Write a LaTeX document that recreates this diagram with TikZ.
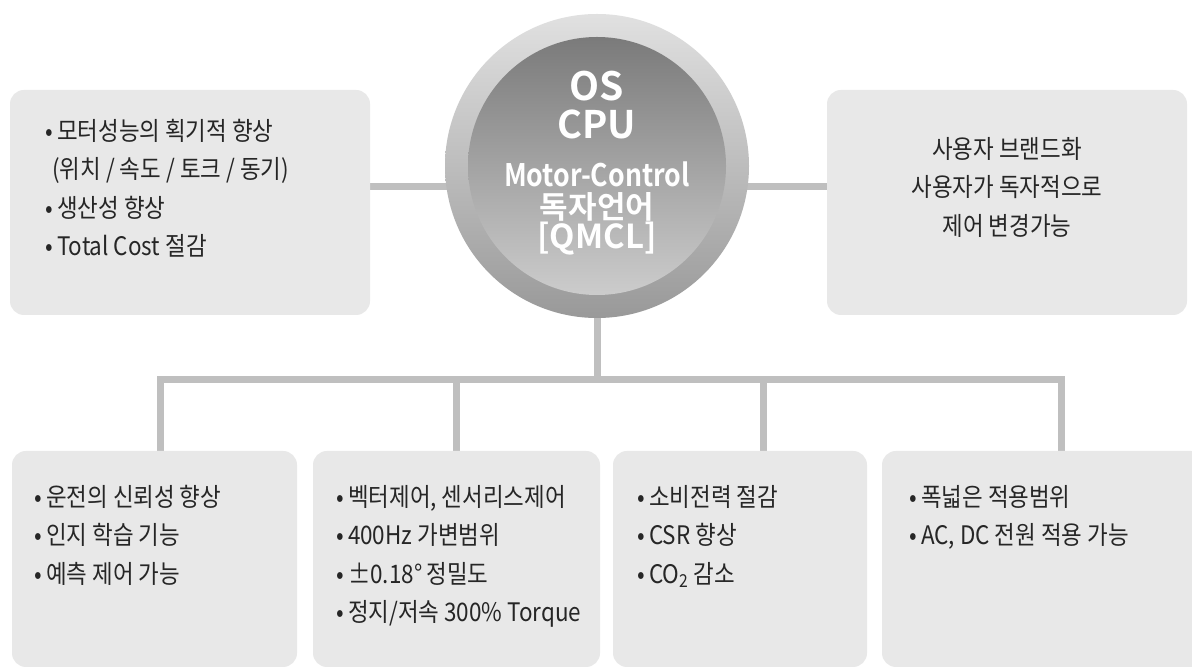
\documentclass[tikz,border=0pt]{standalone}
\usepackage{fontspec}
\setmainfont{Noto Sans CJK KR}[FakeStretch=0.88]
\newfontfamily\cpufont{Noto Sans CJK KR Bold}
\newfontfamily\cpufontn{Noto Sans CJK KR Bold}[FakeStretch=0.86]
\usetikzlibrary{backgrounds}
\definecolor{boxgray}{HTML}{E8E8E8}
\definecolor{linegray}{HTML}{BFBFBF}
\definecolor{txt}{HTML}{262626}
\begin{document}
\begin{tikzpicture}[x=1pt,y=1pt,
  infobox/.style={fill=boxgray, rounded corners=14pt, draw=none, inner sep=0pt},
  conn/.style={draw=linegray, line width=7pt, line join=miter},
  body/.style={text=txt, font=\fontsize{25.5}{38.5}\selectfont, inner sep=0pt, align=left},
  cputext/.style={text=white, inner sep=0pt, anchor=base}]
\useasboundingbox (0,0) rectangle (1192,669);

% boxes
\node[infobox, minimum width=360pt, minimum height=225pt] (lbox) at (190,466.5) {};
\node[infobox, minimum width=360pt, minimum height=225pt] (rbox) at (1007,466.5) {};
\node[infobox, minimum width=285pt, minimum height=216pt] (b1) at (154.5,110) {};
\node[infobox, minimum width=287pt, minimum height=216pt] (b2) at (456.5,110) {};
\node[infobox, minimum width=254pt, minimum height=216pt] (b3) at (740,110) {};
\node[infobox, minimum width=323pt, minimum height=216pt] (b4) at (1043.5,110) {};

% central disc
\node[circle, minimum size=304pt, inner sep=0pt, top color=black!12, bottom color=black!40] (cpu) at (597,503) {};
\node[circle, minimum size=258pt, inner sep=0pt, top color=black!52, bottom color=black!20] (cpuin) at (cpu.center) {};
\node[cputext, font=\cpufont\fontsize{39}{39}\selectfont] (t1) at (597,568) {OS};
\node[cputext, font=\cpufont\fontsize{38}{38}\selectfont] (t2) at (597,530) {CPU};
\node[cputext, font=\cpufontn\fontsize{31}{31}\selectfont] (t3) at (597,482) {Motor-Control};
\node[cputext, font=\cpufont\fontsize{31}{31}\selectfont] (t4) at (597,450) {독자언어};
\node[cputext, font=\cpufont\fontsize{33}{33}\selectfont] (t5) at (597,420) {[QMCL]};

% texts
\node[body, anchor=north west] (lt) at (45,550) {•\,모터성능의 획기적 향상\\\hspace*{7pt}(위치 / 속도 / 토크 / 동기)\\•\,생산성 향상\\•\,Total Cost 절감};
\node[body, align=center] (rt) at (1007,482) {사용자 브랜드화\\사용자가 독자적으로\\제어 변경가능};
\node[body, anchor=north west] (bt1) at (34,184) {•\,운전의 신뢰성 향상\\•\,인지 학습 기능\\•\,예측 제어 가능};
\node[body, anchor=north west] (bt2) at (336,184) {•\,벡터제어, 센서리스제어\\•\,400Hz 가변범위\\•\,±0.18°\,정밀도\\•\,정지/저속 300\% Torque};
\node[body, anchor=north west] (bt3) at (637,184) {•\,소비전력 절감\\•\,CSR 향상\\•\,CO\textsubscript{2} 감소};
\node[body, anchor=north west] (bt4) at (909,184) {•\,폭넓은 적용범위\\•\,AC, DC 전원 적용 가능};

% connectors
\coordinate (hl) at (0,482);
\coordinate (bus) at (597,289);
\coordinate (d1) at (160,289);
\coordinate (d2) at (456,289);
\coordinate (d3) at (763,289);
\coordinate (d4) at (1061,289);
\begin{pgfonlayer}{background}
\fill[white] (0,0) rectangle (1192,669);
\draw[conn] (lbox.east |- hl) -- (cpu.center |- hl);
\draw[conn] (cpu.center |- hl) -- (rbox.west |- hl);
\draw[conn] (cpu.center) -- (bus);
\draw[conn] (b1.north -| d1) -- (d1) -- (d4) -- (b4.north -| d4);
\draw[conn] (d2) -- (b2.north -| d2);
\draw[conn] (d3) -- (b3.north -| d3);
\end{pgfonlayer}
\end{tikzpicture}
\end{document}
